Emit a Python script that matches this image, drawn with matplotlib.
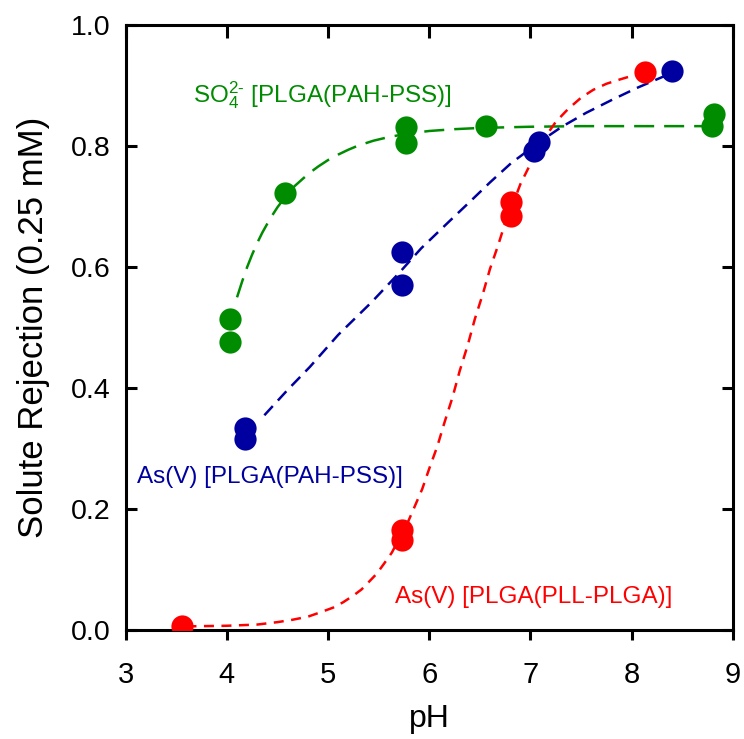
import matplotlib
matplotlib.use("Agg")
import matplotlib.pyplot as plt

plt.rcParams['font.family'] = ['Liberation Sans', 'DejaVu Sans']
plt.rcParams['mathtext.fontset'] = 'custom'
plt.rcParams['mathtext.rm'] = 'Liberation Sans'
plt.rcParams['mathtext.it'] = 'Liberation Sans'

# Measured data points (pH, rejection)
so4_ph = [4.03, 4.03, 4.57, 5.77, 5.77, 6.56, 8.81, 8.79]
so4_rej = [0.514, 0.476, 0.722, 0.831, 0.805, 0.834, 0.853, 0.834]

as_pah_ph = [4.18, 4.18, 5.73, 5.73, 7.03, 7.08, 8.40]
as_pah_rej = [0.334, 0.316, 0.625, 0.570, 0.792, 0.806, 0.924]

as_pll_ph = [3.56, 5.73, 5.73, 6.81, 6.81, 8.13]
as_pll_rej = [0.007, 0.165, 0.148, 0.708, 0.684, 0.923]

# Fitted curves
so4_fit_ph = [4.10, 4.15, 4.20, 4.25, 4.30, 4.35, 4.40, 4.45, 4.50, 4.55, 4.60, 4.67, 4.75, 4.82, 4.90,
              5.00, 5.10, 5.20, 5.30, 5.45, 5.60, 5.80, 6.00, 6.25, 6.50, 7.00, 7.50, 8.80]
so4_fit_rej = [0.550, 0.576, 0.600, 0.621, 0.640, 0.657, 0.672, 0.686, 0.699, 0.710, 0.720, 0.734, 0.746,
               0.756, 0.766, 0.777, 0.786, 0.794, 0.801, 0.809, 0.815, 0.821, 0.825, 0.828, 0.830,
               0.832, 0.833, 0.833]

as_pah_fit_ph = [4.37, 4.60, 4.82, 5.10, 5.43, 5.70, 5.92, 6.20, 6.42, 6.60, 6.81, 7.10, 7.31, 7.55,
                 7.80, 8.05, 8.30, 8.40]
as_pah_fit_rej = [0.355, 0.397, 0.435, 0.488, 0.542, 0.590, 0.631, 0.676, 0.711, 0.740, 0.772, 0.808,
                  0.832, 0.855, 0.876, 0.896, 0.914, 0.920]

as_pll_fit_ph = [3.60, 4.00, 4.30, 4.50, 4.65, 4.80, 4.92, 5.05, 5.15, 5.25, 5.33, 5.40, 5.48, 5.55,
                 5.63, 5.70, 5.78, 5.85, 5.93, 6.00, 6.08, 6.15, 6.23, 6.30, 6.38, 6.45, 6.53, 6.60,
                 6.68, 6.75, 6.83, 6.90, 6.98, 7.05, 7.15, 7.25, 7.37, 7.50, 7.62, 7.75, 7.88,
                 8.00, 8.10]
as_pll_fit_rej = [0.006, 0.007, 0.009, 0.013, 0.017, 0.022, 0.029, 0.037, 0.046, 0.057, 0.067, 0.079,
                  0.093, 0.109, 0.128, 0.150, 0.175, 0.202, 0.233, 0.267, 0.304, 0.343, 0.385, 0.428,
                  0.471, 0.514, 0.556, 0.597, 0.636, 0.673, 0.706, 0.737, 0.764, 0.789, 0.816, 0.840,
                  0.861, 0.880, 0.893, 0.903, 0.910, 0.916, 0.920]

xticks = [3, 4, 5, 6, 7, 8, 9]
yticks = [0.0, 0.2, 0.4, 0.6, 0.8, 1.0]

GREEN = '#008C00'
BLUE = '#0000A0'
RED = '#FF0000'

fig = plt.figure(figsize=(7.44, 7.39), dpi=100)
ax = fig.add_axes([0.169, 0.1475, 0.816, 0.8185])

ax.plot(so4_fit_ph, so4_fit_rej, color=GREEN, lw=1.8, dashes=(8, 4), zorder=2)
ax.plot(as_pah_fit_ph, as_pah_fit_rej, color=BLUE, lw=1.8, dashes=(5, 3), zorder=2)
ax.plot(as_pll_fit_ph, as_pll_fit_rej, color=RED, lw=1.8, dashes=(4, 3), zorder=2)

ms = 16
ax.plot(so4_ph, so4_rej, 'o', color=GREEN, ms=ms, mec='none', zorder=3)
ax.plot(as_pah_ph, as_pah_rej, 'o', color=BLUE, ms=ms, mec='none', zorder=3)
ax.plot(as_pll_ph, as_pll_rej, 'o', color=RED, ms=ms, mec='none', zorder=3)

ax.text(3.66, 0.873, r'SO$_4^{2\text{-}}$ [PLGA(PAH-PSS)]', color=GREEN, fontsize=17.5)
ax.text(3.11, 0.243, 'As(V) [PLGA(PAH-PSS)]', color=BLUE, fontsize=17.5)
ax.text(5.66, 0.045, 'As(V) [PLGA(PLL-PLGA)]', color=RED, fontsize=17.5)

ax.set_xlim(3, 9)
ax.set_ylim(0, 1.0)
ax.set_xticks(xticks)
ax.set_xticklabels([str(t) for t in xticks])
ax.set_yticks(yticks)
ax.set_yticklabels([f'{t:.1f}' for t in yticks])

for s in ax.spines.values():
    s.set_linewidth(2.2)

ax.tick_params(axis='x', which='both', direction='out', length=7, width=2.2, labelsize=21, pad=15,
               top=False)
ax.tick_params(axis='y', which='both', direction='in', length=8, width=2.2, labelsize=20.5, pad=11,
               right=True)
ax_top = ax.secondary_xaxis('top')
ax_top.set_xticks(xticks)
ax_top.tick_params(direction='in', length=9, width=2.2, labeltop=False)
ax_top.set_xticklabels([])

ax.set_xlabel('pH', fontsize=23, labelpad=11)
ax.set_ylabel('Solute Rejection (0.25 mM)', fontsize=25, labelpad=15)

fig.savefig('out.png', dpi=100)
